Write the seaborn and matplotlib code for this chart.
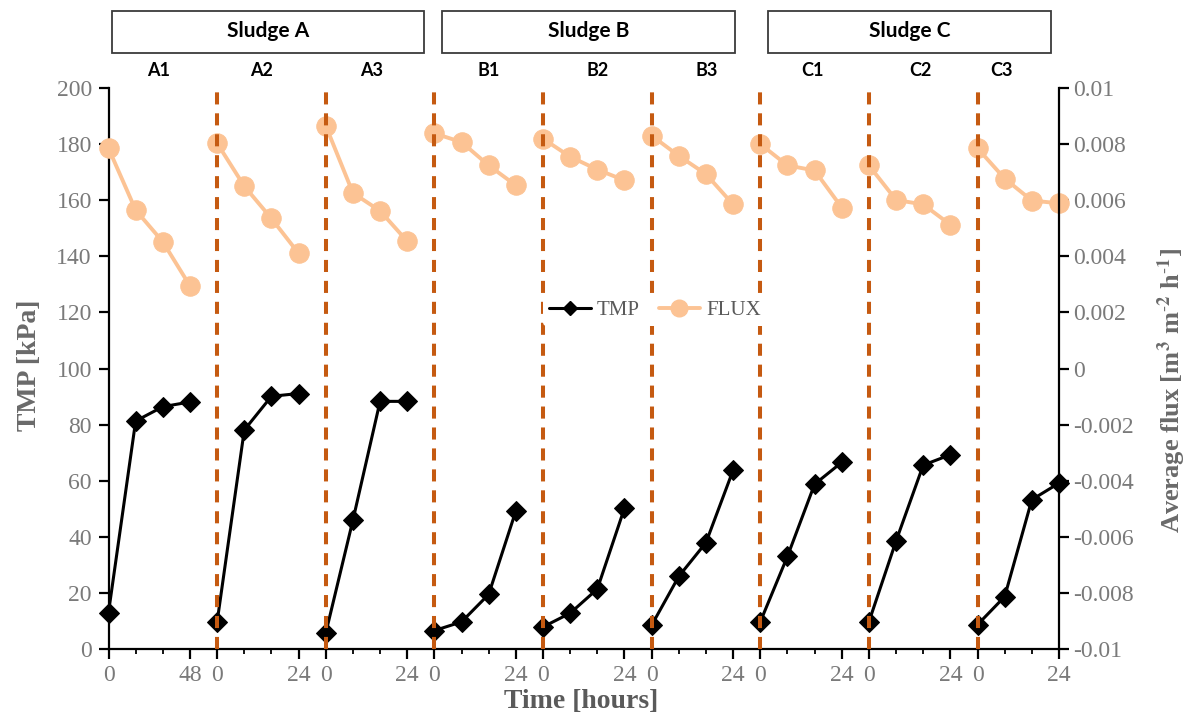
import numpy as np
import pandas as pd
import matplotlib
matplotlib.use("Agg")
import matplotlib.pyplot as plt
import seaborn as sns
from matplotlib.lines import Line2D
from matplotlib.patches import Rectangle

# ---------------- data ----------------
runs = ["A1", "A2", "A3", "B1", "B2", "B3", "C1", "C2", "C3"]
sludges = ["Sludge A", "Sludge B", "Sludge C"]
run_hours = [0, 8, 16, 24]          # plotted sampling positions within a run
end_labels = ["48", "24", "24", "24", "24", "24", "24", "24", "24"]

tmp_A1 = [13.1, 81.3, 86.4, 88.1]
tmp_A2 = [9.8, 78.1, 90.1, 91.1]
tmp_A3 = [5.8, 46.0, 88.3, 88.3]
tmp_B1 = [6.7, 9.8, 19.6, 49.3]
tmp_B2 = [8.0, 12.9, 21.5, 50.3]
tmp_B3 = [8.6, 26.0, 38.0, 63.8]
tmp_C1 = [9.8, 33.1, 58.8, 66.6]
tmp_C2 = [9.8, 38.6, 65.6, 69.3]
tmp_C3 = [8.8, 18.8, 53.3, 59.2]

flux_A1 = [0.00784, 0.00564, 0.00451, 0.00294]
flux_A2 = [0.00802, 0.00649, 0.00534, 0.00410]
flux_A3 = [0.00864, 0.00625, 0.00561, 0.00453]
flux_B1 = [0.00837, 0.00806, 0.00723, 0.00652]
flux_B2 = [0.00818, 0.00754, 0.00708, 0.00670]
flux_B3 = [0.00829, 0.00757, 0.00692, 0.00584]
flux_C1 = [0.00799, 0.00723, 0.00705, 0.00573]
flux_C2 = [0.00723, 0.00600, 0.00584, 0.00512]
flux_C3 = [0.00784, 0.00676, 0.00598, 0.00588]

tmp_ticks = list(range(0, 201, 20))
flux_ticks = [-0.01, -0.008, -0.006, -0.004, -0.002, 0, 0.002, 0.004, 0.006, 0.008, 0.01]
flux_tick_labels = ["-0.01", "-0.008", "-0.006", "-0.004", "-0.002", "0",
                    "0.002", "0.004", "0.006", "0.008", "0.01"]

tmp_by_run = dict(zip(runs, [tmp_A1, tmp_A2, tmp_A3, tmp_B1, tmp_B2, tmp_B3, tmp_C1, tmp_C2, tmp_C3]))
flux_by_run = dict(zip(runs, [flux_A1, flux_A2, flux_A3, flux_B1, flux_B2, flux_B3, flux_C1, flux_C2, flux_C3]))

# ---------------- style ----------------
sns.set_theme(style="white")
plt.rcParams["font.family"] = ["Liberation Serif", "DejaVu Serif"]
plt.rcParams["mathtext.fontset"] = "stix"

RUN_PITCH = 32
PEACH = "#FCC394"
DASH = "#C55A11"
TICK_GRAY = "#7a7a7a"
LABEL_GRAY = "#6a6a6a"

rows = []
for i, r in enumerate(runs):
    for t, p, f in zip(run_hours, tmp_by_run[r], flux_by_run[r]):
        rows.append({"run": r, "pos": i * RUN_PITCH + t, "TMP": p, "FLUX": f})
df = pd.DataFrame(rows)

W, H = 1189, 718
fig = plt.figure(figsize=(W / 100, H / 100), dpi=100)
ax = fig.add_axes([108.5 / W, 1 - 649.4 / H, (1059 - 108.5) / W, (649.4 - 87.6) / H])
ax2 = ax.twinx()

sns.lineplot(data=df, x="pos", y="TMP", units="run", estimator=None, ax=ax,
             color="black", marker="D", markersize=10, linewidth=2.2,
             markeredgecolor="black", legend=False, zorder=3, clip_on=False)
sns.lineplot(data=df, x="pos", y="FLUX", units="run", estimator=None, ax=ax2,
             color=PEACH, marker="o", markersize=14, linewidth=2.8,
             markeredgecolor=PEACH, legend=False, zorder=2, clip_on=False)

for i in range(1, len(runs)):
    ax2.axvline(i * RUN_PITCH, color=DASH, lw=2.9, dashes=(3.0, 2.2), zorder=4)

n_last = (len(runs) - 1) * RUN_PITCH + run_hours[-1]
ax.set_xlim(0, n_last)
ax.set_ylim(0, 200)
ax2.set_ylim(-0.01, 0.01)

major_pos, major_lab, minor_pos = [], [], []
for i, lab in enumerate(end_labels):
    major_pos += [i * RUN_PITCH, i * RUN_PITCH + run_hours[-1]]
    major_lab += ["0", lab]
    minor_pos += [i * RUN_PITCH + h for h in run_hours[1:-1]]
ax.set_xticks(major_pos)
ax.set_xticklabels(major_lab)
ax.set_xticks(minor_pos, minor=True)
ax.set_yticks(tmp_ticks)
ax2.set_yticks(flux_ticks)
ax2.set_yticklabels(flux_tick_labels)

ax.set_xlabel("")
ax.set_ylabel("")
ax2.set_ylabel("")

for a in (ax, ax2):
    for s in a.spines.values():
        s.set_color("black")
        s.set_linewidth(1.6)
    a.spines["top"].set_visible(False)
ax.spines["right"].set_visible(False)
ax2.spines["left"].set_visible(False)
ax2.spines["bottom"].set_visible(False)

ax.tick_params(axis="x", which="major", bottom=True, direction="out", length=7, width=1.6,
               labelsize=17, labelcolor=TICK_GRAY, pad=4, color="black")
ax.tick_params(axis="x", which="minor", bottom=True, direction="out", length=3.5, width=1.3, color="black")
ax.tick_params(axis="y", left=True, direction="out", length=7, width=1.6,
               labelsize=17, labelcolor=TICK_GRAY, pad=5, color="black")
ax2.tick_params(axis="y", right=True, direction="out", length=7, width=1.6,
                labelsize=17, labelcolor=TICK_GRAY, pad=3, color="black")

# axis titles
fig.text(581 / W, 1 - 701 / H, "Time [hours]", ha="center", va="center",
         fontsize=20, fontweight="bold", color="#5a5a5a")
fig.text(29 / W, 1 - 365 / H, "TMP [kPa]", ha="center", va="center", rotation=90,
         fontsize=20, fontweight="bold", color=LABEL_GRAY)
fig.text(1172 / W, 1 - 390 / H,
         r"Average flux [m$^{\mathbf{3}}$ m$^{\mathbf{\text{-}2}}$ h$^{\mathbf{\text{-}1}}$]",
         ha="center", va="center", rotation=90,
         fontsize=19, fontweight="bold", color=LABEL_GRAY)

# legend
handles = [Line2D([], [], color="black", marker="D", markersize=7.5, lw=2.2),
           Line2D([], [], color=PEACH, marker="o", markersize=12, lw=2.8)]
leg = ax2.legend(handles, ["TMP", "FLUX"], loc="center", bbox_to_anchor=(0.575, 0.604),
                 ncol=2, frameon=True, facecolor="white", edgecolor="none", framealpha=1,
                 fontsize=15, handlelength=2.0, handletextpad=0.3, columnspacing=0.9,
                 borderpad=0.3, labelcolor="#5a5a5a")
leg.set_zorder(10)

# sludge header boxes
box_px = [(112, 424), (442, 735), (768, 1051)]
for (x0, x1), name in zip(box_px, sludges):
    fig.add_artist(Rectangle((x0 / W, 1 - 53 / H), (x1 - x0) / W, 42 / H,
                             transform=fig.transFigure, fill=False,
                             edgecolor="#3a3a3a", lw=1.3))
    fig.text((x0 + x1) / 2 / W, 1 - 31 / H, name, ha="center", va="center",
             fontsize=15, fontweight="bold", family=["Lato", "DejaVu Sans"], color="black")

run_label_px = [159, 262, 372, 489, 598, 707, 812, 920, 1002]
for xp, r in zip(run_label_px, runs):
    fig.text(xp / W, 1 - 71 / H, r, ha="center", va="center", fontsize=13,
             fontweight="bold", family=["Lato", "DejaVu Sans"], color="black")

fig.savefig("out.png", dpi=100)
